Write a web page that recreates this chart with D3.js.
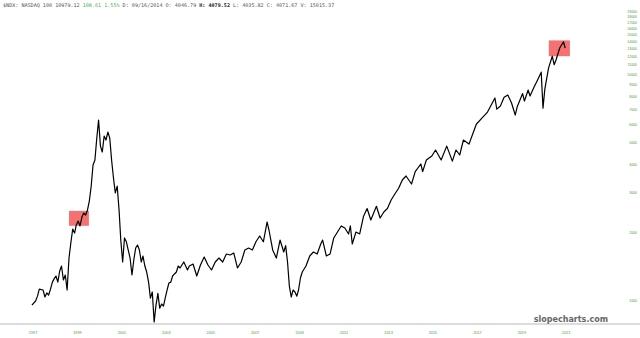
<!DOCTYPE html>
<html>
<head>
<meta charset="utf-8">
<script src="https://cdn.jsdelivr.net/npm/d3@7"></script>
<style>
  body { margin: 0; background: #fff; }
</style>
</head>
<body>
<div id="chart-area"></div>
<script>
// Dataset
var dates = ['1997-03','1997-05','1997-06','1997-07','1997-09','1997-10','1997-11','1997-12',
  '1998-01','1998-02','1998-03','1998-04','1998-05','1998-06','1998-07','1998-08','1998-09','1998-10','1998-11','1998-12',
  '1999-01','1999-02','1999-03','1999-04','1999-05','1999-06','1999-07','1999-08','1999-09','1999-10','1999-11','1999-12',
  '2000-01','2000-02','2000-03','2000-04','2000-05','2000-06','2000-07','2000-08','2000-09','2000-10','2000-11','2000-12',
  '2001-01','2001-02','2001-03','2001-04','2001-05','2001-06','2001-07','2001-08','2001-09','2001-10','2001-11','2001-12',
  '2002-01','2002-02','2002-03','2002-04','2002-05','2002-06','2002-07','2002-08','2002-09','2002-10','2002-11','2002-12',
  '2003-01','2003-02','2003-03','2003-04','2003-05','2003-06','2003-07','2003-08','2003-09','2003-10','2003-11','2003-12',
  '2004-01','2004-02','2004-03','2004-04','2004-06','2004-08','2004-10','2004-12',
  '2005-02','2005-04','2005-06','2005-08','2005-10','2005-12',
  '2006-02','2006-04','2006-06','2006-08','2006-10','2006-12',
  '2007-02','2007-04','2007-06','2007-08','2007-10','2007-11',
  '2008-01','2008-03','2008-05','2008-07','2008-08','2008-09','2008-10','2008-11','2008-12',
  '2009-01','2009-02','2009-03','2009-04','2009-05','2009-07','2009-09','2009-11',
  '2010-01','2010-03','2010-04','2010-06','2010-08','2010-10','2010-12',
  '2011-02','2011-04','2011-06','2011-07','2011-08','2011-10','2011-12',
  '2012-02','2012-04','2012-06','2012-09','2012-11',
  '2013-01','2013-03','2013-05','2013-07','2013-09','2013-11',
  '2014-01','2014-04','2014-06','2014-09','2014-10','2014-12',
  '2015-03','2015-05','2015-08','2015-11',
  '2016-02','2016-04','2016-06','2016-08','2016-11',
  '2017-01','2017-03','2017-06','2017-09','2017-11',
  '2018-01','2018-02','2018-04','2018-06','2018-08','2018-10','2018-12',
  '2019-01','2019-04','2019-05','2019-07','2019-08','2019-10','2019-12',
  '2020-02','2020-03','2020-04','2020-06','2020-08','2020-09','2020-10','2020-12',
  '2021-02','2021-03'];

var closes = [950,990,1040,1118,1107,1031,1075,1052,
  1118,1200,1240,1277,1200,1344,1414,1226,1290,1107,1534,1788,
  2062,1979,2148,2237,2127,2330,2427,2378,2503,2743,3195,3959,
  4166,5210,6263,4800,4519,5320,5108,5540,5210,4166,3470,2980,
  3195,2503,1843,1473,1882,1810,1665,1534,1290,1503,1699,1752,
  1665,1473,1566,1414,1330,1200,1020,1085,799,950,1070,920,
  960,940,1020,1107,1189,1200,1277,1304,1330,1414,1386,1429,
  1473,1414,1358,1414,1443,1277,1429,1550,
  1429,1358,1473,1534,1473,1598,
  1582,1615,1386,1473,1665,1699,
  1665,1810,1920,1810,2215,2041,
  1665,1534,1843,1631,1740,1473,1153,1031,1107,
  1085,1040,1107,1251,1330,1414,1566,1631,
  1598,1770,1843,1566,1598,1882,2000,
  2127,2083,1960,2127,1770,2000,1960,
  2340,2540,2260,2600,2306,
  2452,2540,2772,2945,3124,3398,
  3540,3262,3700,4000,3700,4166,
  4340,4613,4166,4800,
  4120,4613,4384,5108,4900,
  5430,6000,6390,6790,7300,
  7840,7000,7230,7900,8080,7450,6590,
  7150,8200,7600,8500,8000,8700,9400,
  10200,7070,8600,10650,12000,11000,11550,13050,
  13900,13050];

var yTicks = [1000,2000,3000,4000,5000,6000,7000,8000,9000,10000,
  11000,12000,13000,14000,15000,16000,17000,18000,19000];
var xTickYears = [1997,1999,2001,2003,2005,2007,2009,2011,2013,2015,2017,2019,2021];

// highlight boxes
var boxFrom = ['1998-11-01','2020-06-05'];
var boxTo = ['1999-09-24','2021-05-18'];
var boxLow = [2130,12000];
var boxHigh = [2480,14100];

var parseMonth = d3.timeParse('%Y-%m');
var parseDay = d3.timeParse('%Y-%m-%d');
var series = dates.map(function (d, i) { return { date: parseMonth(d), value: closes[i] }; });

var width = 640, height = 338;

var svg = d3.select('#chart-area').append('svg')
  .attr('width', width)
  .attr('height', height)
  .style('font-family', 'DejaVu Sans, sans-serif');

// Scales
var x = d3.scaleTime()
  .domain([new Date(1997, 0, 1), new Date(2021, 0, 1)])
  .range([28.3, 561.6]);

var y = d3.scaleLog()
  .domain([1000, 16000])
  .range([300, 28]);

// Highlight boxes
svg.selectAll('rect.box')
  .data(boxFrom)
  .enter()
  .append('rect')
  .attr('class', 'box')
  .attr('x', function (d) { return x(parseDay(d)); })
  .attr('width', function (d, i) { return x(parseDay(boxTo[i])) - x(parseDay(d)); })
  .attr('y', function (d, i) { return y(boxHigh[i]); })
  .attr('height', function (d, i) { return y(boxLow[i]) - y(boxHigh[i]); })
  .attr('fill', '#f23c3c')
  .attr('opacity', 0.72);

// Price line
var line = d3.line()
  .x(function (d) { return x(d.date); })
  .y(function (d) { return y(d.value); });

svg.append('path')
  .datum(series)
  .attr('d', line)
  .attr('fill', 'none')
  .attr('stroke', '#000')
  .attr('stroke-width', 1.2)
  .attr('stroke-linejoin', 'round');

// Bottom axis line
svg.append('line')
  .attr('x1', 0).attr('x2', width)
  .attr('y1', 324).attr('y2', 324)
  .attr('stroke', '#bbb')
  .attr('stroke-width', 1);

// X labels
var xAxis = d3.axisBottom(x)
  .tickValues(xTickYears.map(function (yr) { return new Date(yr, 0, 1); }))
  .tickFormat(d3.timeFormat('%Y'))
  .tickSize(0);

var gx = svg.append('g')
  .attr('transform', 'translate(0, 328)')
  .call(xAxis);
gx.select('.domain').remove();
gx.selectAll('text')
  .attr('text-anchor', 'start')
  .attr('fill', '#4f9a3a')
  .style('font-size', '3.8px');

// Y labels on the right
var yAxis = d3.axisRight(y)
  .tickValues(yTicks)
  .tickFormat(d3.format('d'))
  .tickSize(0);

var gy = svg.append('g')
  .attr('transform', 'translate(637, 0)')
  .call(yAxis);
gy.select('.domain').remove();
gy.selectAll('text')
  .attr('x', 0)
  .attr('text-anchor', 'end')
  .attr('fill', '#4f9a3a')
  .style('font-size', '3.5px');

// Header
var header = svg.append('text')
  .attr('x', 3)
  .attr('y', 7)
  .attr('fill', '#555')
  .style('font-family', 'DejaVu Sans Mono, monospace')
  .style('font-size', '5.1px');

header.append('tspan').text('$NDX: NASDAQ 100 10979.12 ');
header.append('tspan').attr('fill', '#4caf50').text('108.61 1.55%');
header.append('tspan').text(' D: 09/16/2014 O:  4046.79 ');
header.append('tspan').attr('font-weight', 'bold').attr('fill', '#222').text('H:  4079.52');
header.append('tspan').text(' L:  4035.82 C:  4071.67 V: 15015.37');

// Watermark
svg.append('text')
  .attr('x', 608)
  .attr('y', 322)
  .attr('text-anchor', 'end')
  .attr('fill', '#666')
  .attr('font-weight', 'bold')
  .style('font-size', '8px')
  .text('slopecharts.com');
</script>
</body>
</html>
